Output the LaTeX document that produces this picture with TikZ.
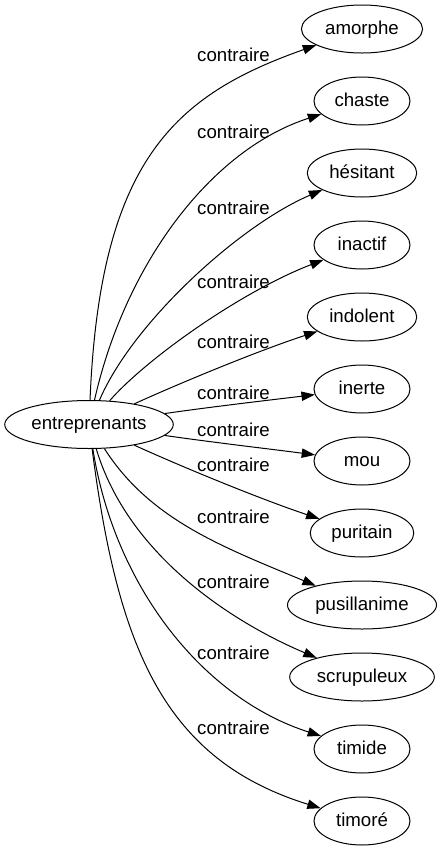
\documentclass[tikz,border=0pt]{standalone}
\usepackage{fontspec}
\setmainfont{Liberation Sans}
\usetikzlibrary{shapes.geometric,arrows.meta}

\begin{document}
\begin{tikzpicture}[
  word/.style={draw,ellipse,line width=0.75pt,
               minimum width=72pt,minimum height=36pt,
               inner xsep=4.5pt,inner ysep=2pt,
               text height=10.5pt,text depth=2.5pt,
               font=\fontsize{14}{16}\selectfont},
  rel/.style={inner sep=0pt,font=\fontsize{14}{16}\selectfont},
  arr/.style={-{Triangle[length=10pt,width=7pt]},line width=0.75pt},
  x=0.75pt,y=-0.75pt
]
\useasboundingbox (0,0) rectangle (443,851);
% Source word
\node[word,inner xsep=1.5pt] (entreprenants) at (89,424.5) {entreprenants};
% Antonyms
\node[word] (amorphe)     at (362,29)  {amorphe};
\node[word] (chaste)      at (362,101) {chaste};
\node[word] (hesitant)    at (362,173) {hésitant};
\node[word] (inactif)     at (362,245) {inactif};
\node[word] (indolent)    at (362,317) {indolent};
\node[word] (inerte)      at (362,389) {inerte};
\node[word] (mou)         at (362,461) {mou};
\node[word] (puritain)    at (362,533) {puritain};
\node[word] (pusillanime) at (362,605) {pusillanime};
\node[word] (scrupuleux)  at (362,677) {scrupuleux};
\node[word] (timide)      at (362,749) {timide};
\node[word] (timore)      at (362,821) {timoré};

% Edges, upper half
\draw[arr] (entreprenants) .. controls (100,160) and (175,95)  .. (amorphe);
\draw[arr] (entreprenants) .. controls (125,265) and (210,150) .. (chaste);
\draw[arr] (entreprenants) .. controls (133,322) and (240,225) .. (hesitant);
\draw[arr] (entreprenants) .. controls (145,360) and (240,292) .. (inactif);
\draw[arr] (entreprenants) .. controls (180,383) and (260,350) .. (indolent);
\draw[arr] (entreprenants) .. controls (210,407) and (270,400) .. (inerte);
% Edges, lower half
\draw[arr] (entreprenants) .. controls (210,442) and (270,449) .. (mou);
\draw[arr] (entreprenants) .. controls (180,466) and (260,499) .. (puritain);
\draw[arr] (entreprenants) .. controls (150,520) and (223,547) .. (pusillanime);
\draw[arr] (entreprenants) .. controls (128,555) and (232,622) .. (scrupuleux);
\draw[arr] (entreprenants) .. controls (115,589) and (205,699) .. (timide);
\draw[arr] (entreprenants) .. controls (118,650) and (165,760) .. (timore);

% Edge labels
\node[rel] (c-amorphe)     at (233.5,55)  {contraire};
\node[rel] (c-chaste)      at (233.5,132) {contraire};
\node[rel] (c-hesitant)    at (233.5,208) {contraire};
\node[rel] (c-inactif)     at (233.5,282) {contraire};
\node[rel] (c-indolent)    at (233.5,342) {contraire};
\node[rel] (c-inerte)      at (233.5,393) {contraire};
\node[rel] (c-mou)         at (233.5,430) {contraire};
\node[rel] (c-puritain)    at (233.5,465) {contraire};
\node[rel] (c-pusillanime) at (233.5,517) {contraire};
\node[rel] (c-scrupuleux)  at (233.5,582) {contraire};
\node[rel] (c-timide)      at (233.5,653) {contraire};
\node[rel] (c-timore)      at (233.5,728) {contraire};
\end{tikzpicture}
\end{document}
